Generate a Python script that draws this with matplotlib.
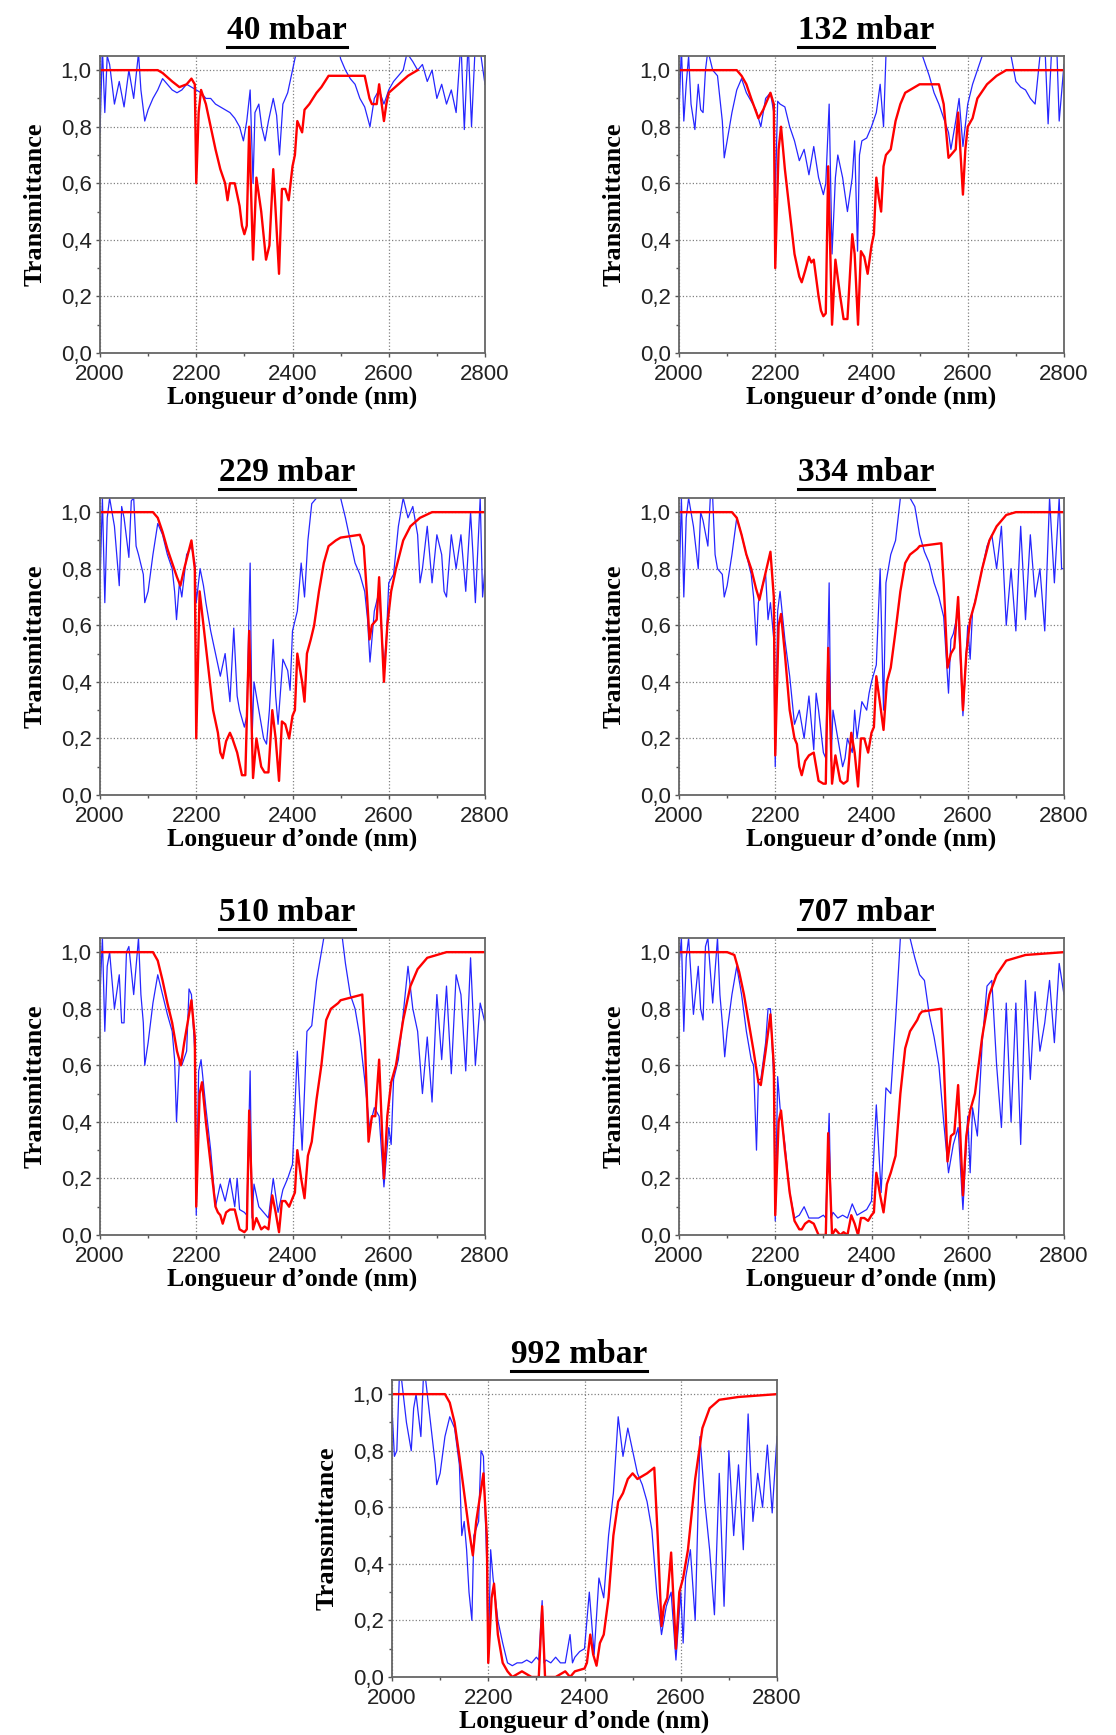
import matplotlib
matplotlib.use("Agg")
import matplotlib.pyplot as plt
from matplotlib.lines import Line2D
from matplotlib.ticker import FuncFormatter, MultipleLocator

# pressures shown in the panel titles
pressures = ["40 mbar", "132 mbar", "229 mbar", "334 mbar", "510 mbar", "707 mbar", "992 mbar"]

# measured transmittance (blue), (wavelength nm, T)
blue_40 = [(2000, .78), (2005, 1.08), (2010, .85), (2015, 1.05), (2020, 1.02), (2030, .88), (2040, .96), (2050, .87),
           (2060, 1.0), (2070, .9), (2080, 1.06), (2085, .93), (2093, .82), (2100, .86), (2110, .9), (2120, .93),
           (2130, .97), (2140, .95), (2150, .93), (2160, .92), (2170, .93), (2180, .95), (2190, .94), (2200, .93),
           (2210, .92), (2220, .9), (2230, .9), (2240, .88), (2250, .87), (2260, .86), (2270, .85), (2280, .83),
           (2290, .8), (2298, .75), (2305, .82), (2312, .93), (2318, .6), (2322, .85), (2330, .88), (2336, .8),
           (2343, .75), (2350, .82), (2360, .9), (2367, .84), (2373, .7), (2380, .88), (2390, .92), (2400, 1.0),
           (2410, 1.08), (2450, 1.1), (2495, 1.08), (2500, 1.04), (2510, 1.0), (2520, .97), (2530, .95), (2540, .9),
           (2550, .87), (2561, .8), (2570, .9), (2580, .93), (2590, .88), (2600, .93), (2610, .96), (2620, .98),
           (2630, 1.0), (2638, 1.06), (2650, 1.03), (2660, 1.0), (2670, 1.02), (2680, .96), (2690, 1.0), (2700, .9),
           (2710, .95), (2720, .88), (2730, .93), (2740, .85), (2750, 1.1), (2757, .79), (2765, 1.1), (2772, .8),
           (2780, 1.1), (2790, 1.07), (2800, .95)]
blue_132 = [(2000, .85), (2005, 1.08), (2010, .82), (2015, .95), (2020, 1.05), (2025, .88), (2033, .79), (2040, .95),
            (2045, .86), (2050, .85), (2055, 1.0), (2060, 1.07), (2070, 1.0), (2080, .98), (2090, .82), (2094, .69),
            (2100, .75), (2110, .85), (2120, .93), (2130, .97), (2140, .92), (2150, .89), (2160, .86), (2170, .8),
            (2180, .9), (2190, .92), (2197, .85), (2200, .55), (2205, .89), (2210, .88), (2220, .87), (2230, .8),
            (2240, .75), (2250, .68), (2260, .72), (2270, .63), (2280, .73), (2290, .62), (2300, .56), (2305, .6),
            (2312, .88), (2318, .35), (2325, .62), (2330, .7), (2340, .62), (2350, .5), (2360, .62), (2365, .75),
            (2371, .36), (2375, .7), (2380, .75), (2390, .76), (2400, .8), (2410, .85), (2418, .95), (2425, .8),
            (2430, 1.05), (2440, 1.1), (2500, 1.1), (2506, 1.05), (2520, .98), (2530, .92), (2540, .88), (2550, .83),
            (2560, .78), (2565, .72), (2575, .82), (2582, .9), (2590, .73), (2600, .88), (2610, .95), (2620, 1.0),
            (2630, 1.05), (2640, 1.1), (2680, 1.1), (2690, 1.05), (2700, .96), (2710, .94), (2720, .93), (2730, .9),
            (2740, .88), (2750, 1.05), (2760, 1.1), (2767, .81), (2775, 1.1), (2785, 1.08), (2790, .82), (2800, 1.02)]
blue_229 = [(2000, .75), (2005, 1.05), (2010, .68), (2015, .98), (2020, 1.05), (2030, .95), (2040, .74), (2045, 1.02),
            (2050, .98), (2060, .84), (2065, 1.04), (2070, 1.05), (2075, .88), (2080, .85), (2090, .78), (2093, .68),
            (2100, .72), (2110, .85), (2120, .96), (2130, .92), (2140, .85), (2150, .8), (2155, .72), (2159, .62),
            (2165, .75), (2170, .7), (2180, .85), (2190, .88), (2197, .82), (2200, .68), (2208, .8), (2215, .74),
            (2220, .68), (2230, .58), (2240, .5), (2250, .42), (2260, .5), (2270, .33), (2278, .59), (2285, .35),
            (2290, .3), (2300, .24), (2305, .28), (2312, .82), (2316, .2), (2320, .4), (2330, .3), (2340, .2),
            (2346, .18), (2352, .3), (2360, .55), (2365, .35), (2370, .25), (2380, .48), (2390, .44), (2395, .37),
            (2400, .58), (2410, .65), (2418, .82), (2425, .7), (2432, .9), (2440, 1.03), (2450, 1.05), (2460, 1.1),
            (2500, 1.05), (2510, .98), (2520, .9), (2530, .82), (2540, .78), (2550, .72), (2556, .62), (2561, .47),
            (2570, .65), (2580, .72), (2590, .45), (2595, .55), (2600, .75), (2610, .78), (2620, .95), (2630, 1.05),
            (2640, .98), (2650, 1.02), (2660, .92), (2665, .75), (2670, .8), (2680, .95), (2690, .75), (2700, .92),
            (2710, .85), (2715, .72), (2720, .7), (2730, .92), (2740, .8), (2750, .92), (2760, .72), (2770, 1.0),
            (2775, .85), (2780, .68), (2790, 1.05), (2795, .7), (2800, .8)]
blue_334 = [(2000, .72), (2005, 1.05), (2010, .7), (2015, .98), (2020, 1.05), (2030, .95), (2040, .8), (2045, 1.0),
            (2050, .97), (2060, .88), (2065, 1.05), (2070, 1.05), (2075, .85), (2080, .8), (2090, .78), (2094, .7),
            (2100, .74), (2110, .85), (2120, .98), (2130, .92), (2140, .85), (2150, .78), (2155, .7), (2161, .53),
            (2165, .68), (2170, .72), (2180, .78), (2185, .62), (2190, .68), (2197, .55), (2200, .1), (2205, .65),
            (2210, .72), (2220, .55), (2230, .42), (2240, .25), (2250, .3), (2260, .2), (2270, .35), (2280, .16),
            (2285, .36), (2290, .3), (2300, .15), (2305, .13), (2312, .75), (2316, .12), (2320, .3), (2330, .2),
            (2340, .1), (2345, .13), (2350, .2), (2360, .15), (2365, .3), (2370, .2), (2380, .33), (2390, .3),
            (2395, .36), (2400, .4), (2410, .46), (2418, .8), (2425, .3), (2430, .75), (2440, .85), (2450, .9),
            (2460, 1.05), (2470, 1.1), (2480, 1.05), (2490, 1.02), (2500, .92), (2510, .86), (2520, .82), (2530, .75),
            (2540, .7), (2550, .63), (2560, .36), (2565, .55), (2570, .57), (2580, .65), (2590, .28), (2600, .6),
            (2605, .48), (2610, .65), (2620, .72), (2630, .8), (2640, .88), (2650, .92), (2660, .8), (2670, .95),
            (2680, .6), (2690, .8), (2700, .58), (2710, .95), (2720, .62), (2730, .92), (2740, .7), (2750, .8),
            (2760, .58), (2770, 1.05), (2780, .75), (2790, 1.05), (2795, .8), (2800, .8)]
blue_510 = [(2000, .85), (2005, 1.05), (2010, .72), (2015, .95), (2020, 1.0), (2030, .8), (2040, .92), (2045, .75),
            (2050, .75), (2055, 1.0), (2060, 1.02), (2070, .85), (2080, 1.05), (2085, .85), (2090, .75), (2093, .6),
            (2100, .68), (2110, .82), (2120, .92), (2130, .85), (2140, .78), (2150, .72), (2155, .62), (2159, .4),
            (2165, .62), (2170, .6), (2180, .65), (2185, .87), (2190, .85), (2197, .65), (2200, .07), (2205, .58),
            (2210, .62), (2220, .45), (2230, .3), (2240, .1), (2250, .18), (2260, .12), (2270, .2), (2280, .1),
            (2285, .2), (2290, .09), (2300, .08), (2305, .07), (2312, .58), (2316, .06), (2320, .18), (2330, .1),
            (2340, .08), (2350, .06), (2360, .2), (2370, .08), (2380, .16), (2390, .2), (2400, .25), (2410, .65),
            (2420, .3), (2430, .72), (2440, .74), (2450, .9), (2460, 1.0), (2470, 1.1), (2500, 1.1), (2510, .96),
            (2520, .85), (2530, .8), (2540, .7), (2550, .55), (2560, .38), (2570, .45), (2580, .42), (2590, .17),
            (2600, .38), (2605, .32), (2610, .55), (2620, .62), (2630, .78), (2640, .95), (2650, .8), (2660, .72),
            (2670, .5), (2680, .7), (2690, .47), (2700, .85), (2710, .62), (2720, .88), (2730, .57), (2740, .92),
            (2750, .85), (2760, .58), (2770, .98), (2780, .6), (2790, .82), (2800, .75)]
blue_707 = [(2000, .95), (2005, 1.05), (2010, .72), (2015, .98), (2020, 1.05), (2030, .78), (2040, .95), (2045, .8),
            (2050, .76), (2055, 1.02), (2060, 1.05), (2070, .82), (2080, 1.05), (2085, .85), (2090, .75), (2095, .63),
            (2100, .72), (2110, .85), (2120, .95), (2130, .85), (2140, .72), (2150, .62), (2155, .6), (2161, .3),
            (2165, .55), (2170, .55), (2180, .68), (2185, .8), (2190, .8), (2197, .55), (2200, .05), (2205, .56),
            (2210, .45), (2220, .32), (2230, .15), (2240, .06), (2250, .07), (2260, .1), (2270, .06), (2280, .06),
            (2290, .06), (2300, .07), (2305, .06), (2312, .43), (2316, .06), (2320, .08), (2330, .06), (2340, .07),
            (2350, .06), (2360, .11), (2370, .07), (2380, .08), (2390, .09), (2400, .12), (2410, .46), (2420, .15),
            (2430, .52), (2440, .5), (2450, .76), (2460, 1.05), (2470, 1.1), (2480, 1.05), (2490, .98), (2500, .92),
            (2510, .9), (2520, .78), (2530, .7), (2540, .6), (2550, .4), (2560, .22), (2570, .32), (2580, .38),
            (2590, .09), (2600, .42), (2605, .22), (2610, .45), (2620, .35), (2630, .68), (2640, .88), (2650, .9),
            (2660, .6), (2670, .38), (2680, .82), (2690, .4), (2700, .82), (2710, .32), (2720, .9), (2730, .55),
            (2740, .86), (2750, .65), (2760, .75), (2770, .9), (2780, .68), (2790, .96), (2800, .85)]
blue_992 = [(2000, .95), (2005, .78), (2010, .8), (2015, 1.05), (2020, 1.05), (2030, .9), (2040, .8), (2045, .95),
            (2050, 1.0), (2060, .85), (2065, 1.05), (2070, 1.05), (2080, .9), (2090, .75), (2093, .68), (2100, .72),
            (2110, .85), (2120, .92), (2130, .88), (2140, .75), (2145, .5), (2150, .55), (2155, .45), (2160, .3),
            (2166, .2), (2170, .5), (2180, .55), (2185, .8), (2190, .78), (2197, .4), (2200, .05), (2205, .45),
            (2210, .35), (2220, .2), (2230, .12), (2240, .05), (2250, .04), (2260, .05), (2270, .05), (2280, .06),
            (2290, .05), (2300, .07), (2305, .06), (2312, .27), (2316, .05), (2320, .06), (2330, .05), (2340, .07),
            (2350, .05), (2360, .05), (2370, .15), (2375, .05), (2380, .07), (2390, .09), (2400, .1), (2410, .3),
            (2420, .08), (2430, .35), (2440, .28), (2450, .5), (2460, .65), (2470, .92), (2480, .78), (2490, .88),
            (2500, .8), (2510, .72), (2520, .68), (2530, .62), (2540, .52), (2550, .3), (2560, .15), (2570, .25),
            (2580, .3), (2590, .06), (2600, .3), (2605, .12), (2610, .35), (2620, .45), (2630, .2), (2640, .85),
            (2650, .62), (2660, .45), (2670, .22), (2680, .72), (2690, .25), (2700, .8), (2710, .5), (2720, .75),
            (2730, .45), (2740, .93), (2750, .55), (2760, .72), (2770, .6), (2780, .82), (2790, .58), (2800, .85)]

# simulated transmittance (red)
red_40 = [(2000, 1.0), (2120, 1.0), (2130, .99), (2150, .96), (2165, .94), (2180, .95), (2190, .97), (2197, .95),
          (2200, .6), (2205, .85), (2210, .93), (2220, .88), (2230, .8), (2240, .72), (2250, .65), (2260, .6),
          (2265, .54), (2270, .6), (2280, .6), (2290, .52), (2295, .45), (2300, .42), (2305, .45), (2310, .8),
          (2318, .33), (2325, .62), (2335, .5), (2345, .33), (2352, .38), (2360, .65), (2365, .5), (2372, .28),
          (2378, .58), (2385, .58), (2392, .54), (2400, .66), (2405, .7), (2410, .82), (2420, .78), (2425, .86),
          (2435, .88), (2450, .92), (2460, .94), (2475, .98), (2500, .98), (2550, .98), (2560, .9), (2565, .88),
          (2575, .88), (2580, .95), (2590, .82), (2595, .88), (2600, .92), (2620, .95), (2640, .98), (2660, 1.0)]
red_132 = [(2000, 1.0), (2120, 1.0), (2130, .98), (2140, .95), (2150, .9), (2165, .83), (2175, .86), (2190, .92),
           (2197, .88), (2200, .3), (2207, .72), (2212, .8), (2220, .65), (2230, .5), (2240, .35), (2250, .27),
           (2255, .25), (2262, .29), (2270, .34), (2275, .32), (2280, .33), (2290, .2), (2295, .15), (2300, .13),
           (2305, .14), (2310, .66), (2318, .1), (2325, .33), (2335, .2), (2342, .12), (2350, .12), (2360, .42),
           (2365, .35), (2372, .1), (2378, .36), (2385, .34), (2392, .28), (2400, .38), (2405, .42), (2410, .62),
           (2415, .55), (2420, .5), (2425, .66), (2430, .7), (2440, .72), (2450, .82), (2460, .88), (2470, .92),
           (2490, .94), (2500, .95), (2540, .95), (2550, .88), (2560, .69), (2565, .7), (2575, .72), (2580, .85),
           (2590, .56), (2595, .72), (2600, .8), (2610, .83), (2620, .9), (2640, .95), (2660, .98), (2680, 1.0),
           (2800, 1.0)]
red_229 = [(2000, 1.0), (2110, 1.0), (2120, .98), (2130, .93), (2140, .87), (2150, .82), (2160, .77), (2167, .74),
           (2175, .8), (2190, .9), (2197, .8), (2200, .2), (2207, .72), (2215, .6), (2225, .45), (2235, .3),
           (2245, .22), (2250, .15), (2255, .13), (2262, .19), (2270, .22), (2275, .2), (2285, .15), (2295, .07),
           (2302, .07), (2310, .58), (2318, .06), (2325, .2), (2335, .1), (2342, .08), (2350, .08), (2358, .3),
           (2365, .2), (2372, .05), (2378, .26), (2385, .25), (2393, .2), (2400, .28), (2405, .3), (2410, .5),
           (2420, .4), (2425, .33), (2430, .5), (2438, .55), (2445, .6), (2455, .72), (2465, .82), (2475, .88),
           (2490, .9), (2500, .91), (2540, .92), (2548, .88), (2555, .7), (2560, .55), (2565, .6), (2575, .62),
           (2580, .77), (2590, .4), (2597, .6), (2605, .72), (2615, .8), (2630, .9), (2645, .95), (2665, .98),
           (2690, 1.0), (2800, 1.0)]
red_334 = [(2000, 1.0), (2110, 1.0), (2120, .98), (2130, .92), (2140, .85), (2150, .8), (2160, .73), (2167, .69),
           (2175, .75), (2190, .86), (2197, .7), (2200, .14), (2207, .6), (2212, .64), (2220, .5), (2230, .3),
           (2240, .2), (2245, .18), (2250, .1), (2255, .07), (2262, .12), (2270, .14), (2280, .15), (2290, .05),
           (2300, .04), (2305, .04), (2310, .52), (2318, .04), (2325, .14), (2335, .05), (2342, .04), (2350, .05),
           (2358, .22), (2365, .15), (2372, .03), (2378, .2), (2385, .2), (2393, .15), (2400, .22), (2405, .24),
           (2410, .42), (2418, .32), (2425, .23), (2432, .4), (2440, .45), (2450, .58), (2460, .72), (2470, .82),
           (2480, .85), (2495, .87), (2500, .88), (2545, .89), (2550, .75), (2558, .45), (2565, .5), (2572, .52),
           (2580, .7), (2590, .3), (2597, .5), (2605, .62), (2615, .68), (2630, .8), (2645, .9), (2660, .95),
           (2680, .99), (2700, 1.0), (2800, 1.0)]
red_510 = [(2000, 1.0), (2110, 1.0), (2120, .97), (2130, .9), (2140, .82), (2150, .75), (2160, .65), (2168, .6),
           (2175, .68), (2190, .83), (2197, .7), (2200, .1), (2207, .5), (2212, .54), (2220, .4), (2230, .25),
           (2240, .1), (2245, .08), (2250, .07), (2255, .04), (2262, .08), (2270, .09), (2280, .09), (2290, .02),
           (2300, .01), (2305, .02), (2310, .44), (2318, .02), (2325, .06), (2335, .02), (2342, .03), (2350, .02),
           (2358, .14), (2365, .08), (2372, .01), (2378, .12), (2385, .12), (2393, .1), (2400, .13), (2405, .15),
           (2410, .3), (2418, .2), (2425, .13), (2432, .28), (2440, .33), (2450, .48), (2460, .6), (2470, .76),
           (2480, .8), (2495, .82), (2500, .83), (2545, .85), (2550, .7), (2558, .33), (2565, .42), (2572, .42),
           (2580, .62), (2590, .2), (2597, .42), (2605, .54), (2615, .6), (2630, .76), (2645, .88), (2660, .94),
           (2680, .98), (2720, 1.0), (2800, 1.0)]
red_707 = [(2000, 1.0), (2100, 1.0), (2115, .99), (2125, .93), (2135, .85), (2145, .75), (2155, .65), (2165, .54),
           (2170, .53), (2180, .65), (2190, .78), (2197, .6), (2200, .07), (2207, .4), (2212, .44), (2220, .3),
           (2230, .15), (2240, .05), (2250, .02), (2255, .02), (2262, .04), (2270, .05), (2280, .04), (2290, .0),
           (2300, .0), (2305, .0), (2310, .36), (2318, .0), (2325, .02), (2335, .0), (2342, .01), (2350, .0),
           (2358, .07), (2365, .04), (2372, .0), (2378, .06), (2385, .06), (2393, .05), (2400, .07), (2405, .08),
           (2410, .22), (2418, .14), (2425, .08), (2432, .18), (2440, .22), (2450, .28), (2460, .5), (2470, .66),
           (2480, .72), (2495, .76), (2500, .78), (2505, .79), (2545, .8), (2550, .62), (2558, .26), (2565, .35),
           (2572, .36), (2580, .53), (2590, .14), (2597, .35), (2605, .44), (2615, .5), (2630, .7), (2645, .85),
           (2660, .92), (2680, .97), (2720, .99), (2800, 1.0)]
red_992 = [(2000, 1.0), (2110, 1.0), (2120, .97), (2130, .9), (2140, .78), (2150, .65), (2160, .52), (2168, .43),
           (2175, .55), (2190, .72), (2197, .5), (2200, .05), (2207, .28), (2212, .33), (2220, .15), (2230, .05),
           (2240, .02), (2250, .0), (2260, .01), (2270, .02), (2280, .01), (2290, .0), (2305, .0), (2312, .25),
           (2318, .0), (2340, .0), (2360, .02), (2370, .0), (2380, .02), (2400, .03), (2405, .05), (2412, .15),
           (2418, .08), (2425, .04), (2432, .12), (2440, .15), (2450, .28), (2460, .5), (2470, .62), (2480, .65),
           (2490, .7), (2500, .72), (2510, .7), (2530, .72), (2545, .74), (2552, .5), (2560, .18), (2565, .25),
           (2572, .28), (2580, .44), (2590, .1), (2597, .3), (2605, .35), (2615, .45), (2630, .7), (2645, .88),
           (2660, .95), (2680, .98), (2720, .99), (2800, 1.0)]

blue_all = [blue_40, blue_132, blue_229, blue_334, blue_510, blue_707, blue_992]
red_all = [red_40, red_132, red_229, red_334, red_510, red_707, red_992]

W_PX, H_PX = 1116, 1735
fig = plt.figure(figsize=(W_PX / 100, H_PX / 100), dpi=100)

# panel boxes in pixels: left, top
boxes = [(100, 56), (679, 56), (100, 498), (679, 498), (100, 938), (679, 938), (392, 1380)]
aw, ah = 385, 297

serif = "Liberation Serif"
sans = "Liberation Sans"
comma_fmt = FuncFormatter(lambda v, _: f"{v:.1f}".replace(".", ","))

titles = []
for (lx, ty), name, blue, red in zip(boxes, pressures, blue_all, red_all):
    ax = fig.add_axes([lx / W_PX, 1 - (ty + ah) / H_PX, aw / W_PX, ah / H_PX])
    bx, by = zip(*blue)
    rx, ry = zip(*red)
    ax.plot(bx, by, color="#2626ff", lw=0.9)
    ax.plot(rx, ry, color="#ff0000", lw=1.7)

    ax.set_xlim(2000, 2800)
    ax.set_ylim(0, 1.05)
    ax.xaxis.set_major_locator(MultipleLocator(200))
    ax.xaxis.set_minor_locator(MultipleLocator(100))
    ax.yaxis.set_major_locator(MultipleLocator(0.2))
    ax.yaxis.set_minor_locator(MultipleLocator(0.1))
    ax.yaxis.set_major_formatter(comma_fmt)
    ax.grid(True, which="major", ls=":", color="#808080", lw=0.9)

    ax.tick_params(which="major", direction="out", length=3, width=1, color="#555555",
                   labelsize=16, labelcolor="#222222")
    ax.tick_params(which="minor", direction="out", length=2, width=1, color="#555555")
    ax.tick_params(axis="x", which="major", pad=5)
    ax.tick_params(axis="y", which="major", pad=3)
    for lab in ax.get_xticklabels() + ax.get_yticklabels():
        lab.set_fontfamily(sans)
    for sp in ax.spines.values():
        sp.set_color("#666666")
        sp.set_linewidth(1.3)

    ax.set_xlabel("Longueur d\u2019onde (nm)", fontsize=18.5, fontweight="bold", family=serif, labelpad=0)
    ax.set_ylabel("Transmittance", fontsize=19, fontweight="bold", family=serif, labelpad=10)

    t = ax.annotate(name, xy=(0.5, 1.0), xycoords="axes fraction", xytext=(-4, 12),
                    textcoords="offset points", ha="center", va="baseline",
                    fontsize=24, fontweight="bold", family=serif)
    titles.append(t)

# underline the titles
fig.canvas.draw()
renderer = fig.canvas.get_renderer()
for t in titles:
    bb = t.get_window_extent(renderer)
    y = bb.y0 - 1
    fig.add_artist(Line2D([bb.x0 / W_PX, bb.x1 / W_PX], [y / H_PX, y / H_PX],
                          transform=fig.transFigure, color="black", lw=2.2))

fig.savefig("out.png", dpi=100)
